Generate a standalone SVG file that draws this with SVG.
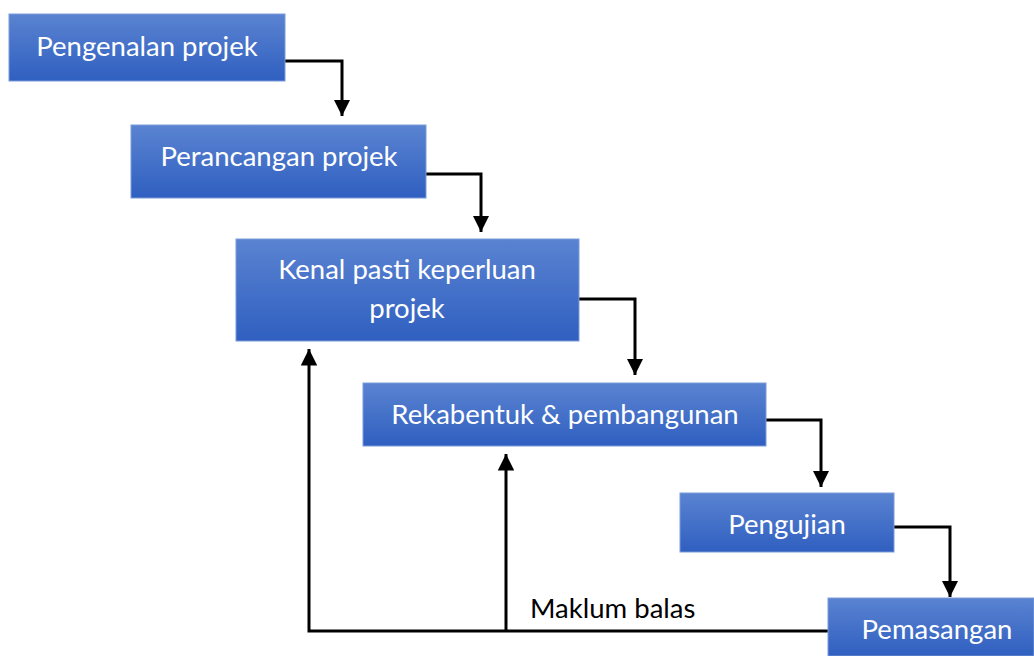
<svg xmlns="http://www.w3.org/2000/svg" width="1034" height="656" viewBox="0 0 1034 656">
<defs>
<linearGradient id="g" x1="0" y1="0" x2="0" y2="1">
<stop offset="0" stop-color="#5a83d1"/>
<stop offset="1" stop-color="#2f5fc0"/>
</linearGradient>
<marker id="ah" viewBox="0 0 10 10" refX="10" refY="5" markerWidth="5.5" markerHeight="5.5" markerUnits="strokeWidth" orient="auto">
<path d="M0,0 L10,5 L0,10 Z" fill="#000"/>
</marker>
<style>
.box{fill:url(#g);stroke:#7d9bd9;stroke-width:1}
.t{font-family:Lato,"Open Sans",sans-serif;font-size:27.5px;fill:#fff;text-anchor:middle;dominant-baseline:central}
.c{fill:none;stroke:#000;stroke-width:3}
.lbl{font-family:Lato,"Open Sans",sans-serif;font-size:27.5px;fill:#000}
</style>
</defs>
<rect width="1034" height="656" fill="#fff"/>
<g id="connectors">
<path class="c" d="M285,61 H342 V116" marker-end="url(#ah)"/>
<path class="c" d="M426,174 H481 V232" marker-end="url(#ah)"/>
<path class="c" d="M579,299 H635 V375" marker-end="url(#ah)"/>
<path class="c" d="M766,420 H821 V487" marker-end="url(#ah)"/>
<path class="c" d="M894,527 H950 V597" marker-end="url(#ah)"/>
<path class="c" d="M828,631 H309 V349" marker-end="url(#ah)"/>
<path class="c" d="M506,631 V454" marker-end="url(#ah)"/>
<text class="lbl" x="530" y="618">Maklum balas</text>
</g>
<g id="n1"><rect class="box" x="9" y="14" width="276" height="67"/><text class="t" x="147" y="45">Pengenalan projek</text></g>
<g id="n2"><rect class="box" x="131" y="125" width="295" height="73"/><text class="t" x="279" y="155">Perancangan projek</text></g>
<g id="n3"><rect class="box" x="236" y="239" width="343" height="102"/><text class="t" x="407" y="268">Kenal pasti keperluan</text><text class="t" x="407" y="307">projek</text></g>
<g id="n4"><rect class="box" x="363" y="383" width="403" height="63"/><text class="t" x="565" y="413">Rekabentuk &amp; pembangunan</text></g>
<g id="n5"><rect class="box" x="680" y="493" width="214" height="59"/><text class="t" x="787" y="523">Pengujian</text></g>
<g id="n6"><rect class="box" x="828" y="598" width="206" height="58"/><text class="t" x="937" y="628">Pemasangan</text></g>
</svg>
